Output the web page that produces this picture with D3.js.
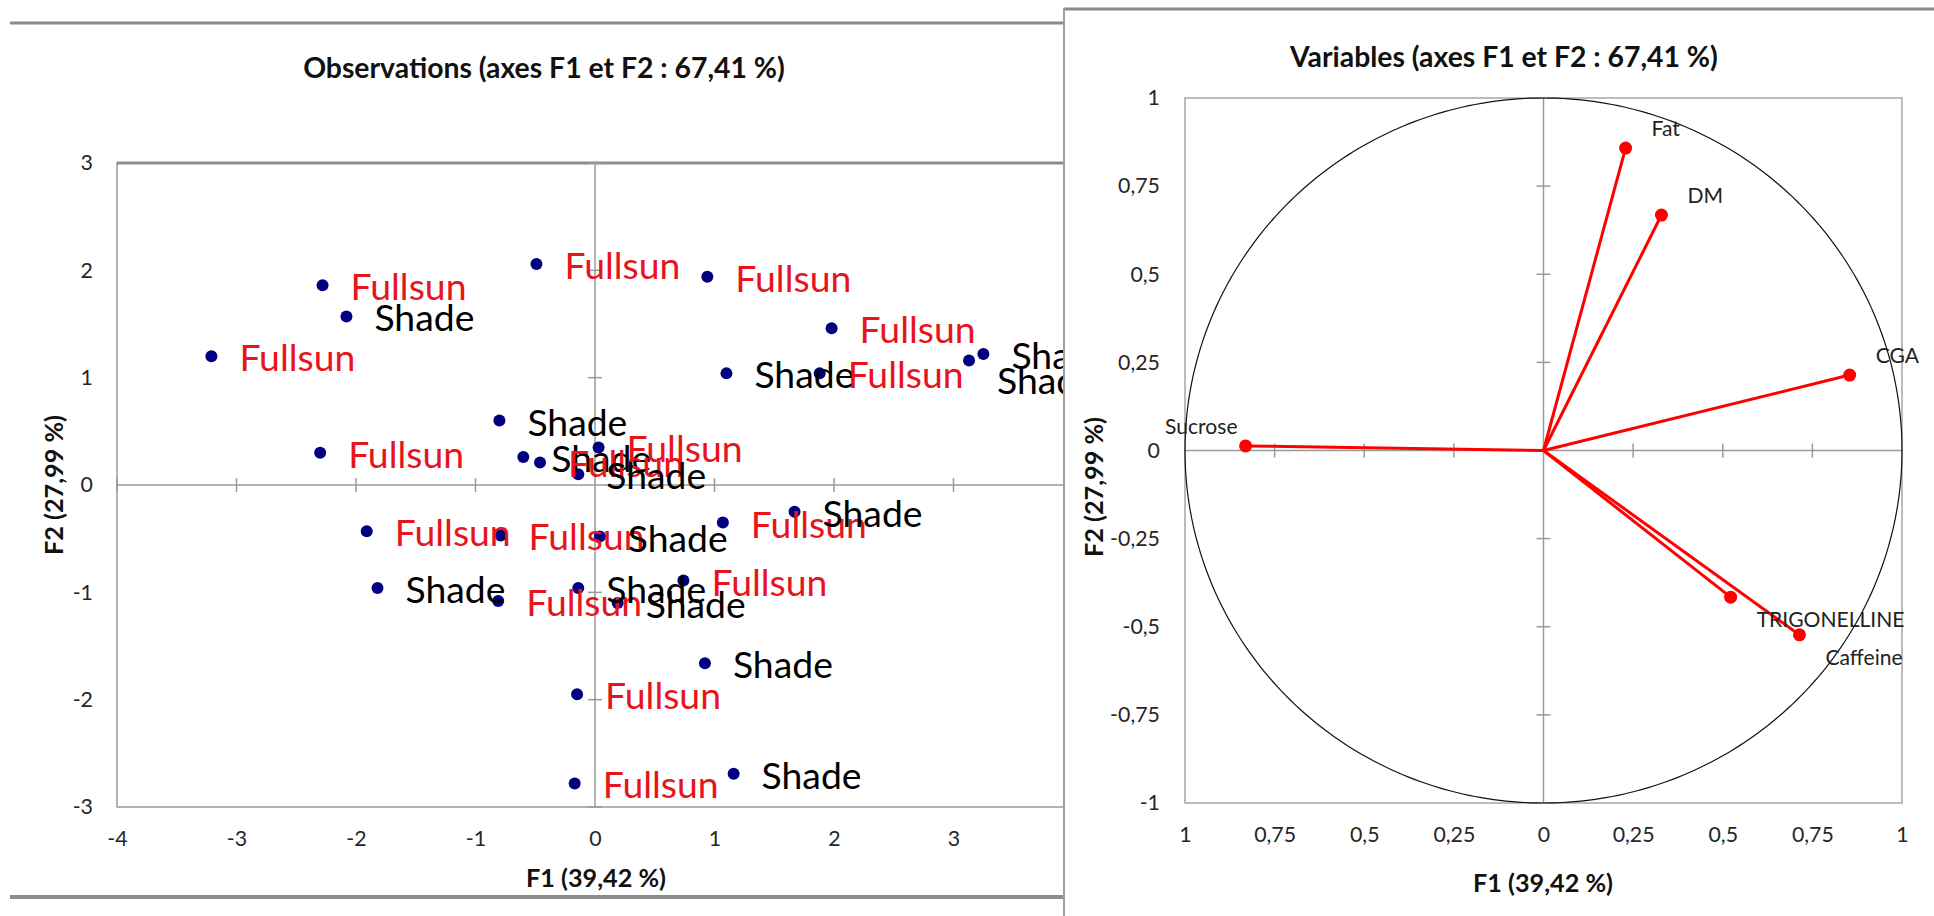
<!DOCTYPE html>
<html>
<head>
<meta charset="utf-8">
<script src="https://d3js.org/d3.v7.min.js"></script>
<style>
  html, body { margin: 0; padding: 0; background: #fff; }
  svg { display: block; font-family: Lato, "Liberation Sans", sans-serif; }
</style>
</head>
<body>
<svg id="chart" width="1934" height="916"></svg>
<script>
// observations on F1 / F2
var obsF1 = [-2.28, -2.08, -3.21, -0.49, 0.94, 1.98, 1.10, 1.88, 3.25, 3.13,
             -0.80, -2.30, -0.60, -0.46, -0.14, 0.03, -1.91, -0.79, 0.04, 1.07,
             1.67, -1.82, -0.81, -0.14, 0.74, 0.19, 0.92, -0.15, 1.16, -0.17];
var obsF2 = [1.86, 1.57, 1.20, 2.06, 1.94, 1.46, 1.04, 1.04, 1.22, 1.16,
             0.60, 0.30, 0.26, 0.21, 0.10, 0.35, -0.43, -0.47, -0.48, -0.35,
             -0.25, -0.96, -1.08, -0.96, -0.89, -1.10, -1.66, -1.95, -2.69, -2.78];
var obsGroup = ["Fullsun", "Shade", "Fullsun", "Fullsun", "Fullsun", "Fullsun", "Shade", "Fullsun", "Shade", "Shade",
                "Shade", "Fullsun", "Shade", "Fullsun", "Shade", "Fullsun", "Fullsun", "Fullsun", "Shade", "Fullsun",
                "Shade", "Shade", "Fullsun", "Shade", "Fullsun", "Shade", "Shade", "Fullsun", "Shade", "Fullsun"];

// variables on the correlation circle
var varNames = ["Fat", "DM", "CGA", "Sucrose", "TRIGONELLINE", "Caffeine"];
var varF1 = [0.229, 0.329, 0.854, -0.831, 0.522, 0.714];
var varF2 = [0.858, 0.668, 0.214, 0.013, -0.416, -0.523];

// tick values and labels
var obsTicksX = [-4, -3, -2, -1, 0, 1, 2, 3];
var obsTicksY = [-3, -2, -1, 0, 1, 2, 3];
var varTicks = [-1, -0.75, -0.5, -0.25, 0, 0.25, 0.5, 0.75, 1];
var varTickLabelsX = ["1", "0,75", "0,5", "0,25", "0", "0,25", "0,5", "0,75", "1"];
var varTickLabelsY = ["-1", "-0,75", "-0,5", "-0,25", "0", "0,25", "0,5", "0,75", "1"];

var svg = d3.select("#chart");
svg.append("rect").attr("width", 1934).attr("height", 916).attr("fill", "#fff");

// the original used Calibri; pick a Lato size that gives the same text width
function fit(str, weight, width) {
  var t = svg.append("text").attr("font-size", 100).attr("font-weight", weight).text(str);
  var w = t.node().getComputedTextLength();
  t.remove();
  return 100 * width / w;
}
var fsObs = fit("Fullsun", "normal", 116);
var fsTitle = fit("Observations (axes F1 et F2 : 67,41 %)", "bold", 482);
var fsAxis = fit("F1 (39,42 %)", "bold", 140);
var fsTick = fit("0,75", "normal", 42);
var fsVar = fit("TRIGONELLINE", "normal", 148);

var groupColor = { Fullsun: "#e8141c", Shade: "#000" };

// ---------- left chart: observations ----------
var x = d3.scaleLinear().domain([-4, 4]).range([117, 1073]);
var y = d3.scaleLinear().domain([-3, 3]).range([807, 163]);

var left = svg.append("g");

// chart area lines
left.append("line").attr("x1", 10).attr("x2", 1064).attr("y1", 23).attr("y2", 23)
  .attr("stroke", "#8c8c8c").attr("stroke-width", 3);
left.append("line").attr("x1", 10).attr("x2", 1064).attr("y1", 897).attr("y2", 897)
  .attr("stroke", "#8c8c8c").attr("stroke-width", 4);

left.append("text").attr("x", 544).attr("y", 78).attr("text-anchor", "middle")
  .attr("font-size", fsTitle).attr("font-weight", "bold").attr("fill", "#111")
  .text("Observations (axes F1 et F2 : 67,41 %)");

// plot box
left.append("rect").attr("x", x(-4)).attr("y", y(3)).attr("width", x(4) - x(-4)).attr("height", y(-3) - y(3))
  .attr("fill", "none").attr("stroke", "#9a9a9a").attr("stroke-width", 1.5);
left.append("line").attr("x1", x(-4)).attr("x2", x(4)).attr("y1", y(3)).attr("y2", y(3))
  .attr("stroke", "#8c8c8c").attr("stroke-width", 3);

// axes through the origin
left.append("line").attr("x1", x(-4)).attr("x2", x(4)).attr("y1", y(0)).attr("y2", y(0))
  .attr("stroke", "#9a9a9a").attr("stroke-width", 1.5);
left.append("line").attr("x1", x(0)).attr("x2", x(0)).attr("y1", y(3)).attr("y2", y(-3))
  .attr("stroke", "#9a9a9a").attr("stroke-width", 1.5);
left.selectAll(".tx").data(obsTicksX.filter(function(d){ return d !== 0; })).enter().append("line")
  .attr("x1", function(d){ return x(d); }).attr("x2", function(d){ return x(d); })
  .attr("y1", y(0) - 7).attr("y2", y(0) + 7).attr("stroke", "#9a9a9a").attr("stroke-width", 1.5);
left.selectAll(".ty").data(obsTicksY.filter(function(d){ return d !== 0; })).enter().append("line")
  .attr("y1", function(d){ return y(d); }).attr("y2", function(d){ return y(d); })
  .attr("x1", x(0) - 7).attr("x2", x(0) + 7).attr("stroke", "#9a9a9a").attr("stroke-width", 1.5);

// tick labels
var axL = left.append("g").attr("transform", "translate(" + x(-4) + ",0)")
  .call(d3.axisLeft(y).tickValues(obsTicksY).tickSize(0).tickPadding(24).tickFormat(d3.format("d")));
var axB = left.append("g").attr("transform", "translate(0," + y(-3) + ")")
  .call(d3.axisBottom(x).tickValues(obsTicksX).tickSize(0).tickPadding(24).tickFormat(d3.format("d")));
[axL, axB].forEach(function(a){
  a.select(".domain").remove();
  a.selectAll("text").attr("font-size", fsTick).attr("fill", "#262626").attr("font-family", "Lato, sans-serif")
    .text(function(){ return this.textContent.replace("\u2212", "-"); });
});

left.append("text").attr("x", 596).attr("y", 887).attr("text-anchor", "middle")
  .attr("font-size", fsAxis).attr("font-weight", "bold").attr("fill", "#111").text("F1 (39,42 %)");
left.append("text").attr("transform", "translate(63,485) rotate(-90)").attr("text-anchor", "middle")
  .attr("font-size", fsAxis).attr("font-weight", "bold").attr("fill", "#111").text("F2 (27,99 %)");

// points and labels
var placed = [];
obsF1.forEach(function(v, i){
  var px = x(v), py = y(obsF2[i]);
  var lx = px + 28, ly = py + 15;
  // same-group labels that would sit on top of each other go one line down
  placed.forEach(function(p){
    if (p.g === obsGroup[i] && Math.abs(p.x - lx) < 20 && Math.abs(p.y - ly) < 20) ly = p.y + 25;
  });
  placed.push({ x: lx, y: ly, g: obsGroup[i], px: px, py: py });
});
left.selectAll("circle.obs").data(placed).enter().append("circle")
  .attr("class", "obs").attr("cx", function(d){ return d.px; }).attr("cy", function(d){ return d.py; })
  .attr("r", 6).attr("fill", "#000080");
left.selectAll("text.obs").data(placed).enter().append("text")
  .attr("class", "obs").attr("x", function(d){ return d.x; }).attr("y", function(d){ return d.y; })
  .attr("font-size", fsObs).attr("fill", function(d){ return groupColor[d.g]; })
  .text(function(d){ return d.g; });

// ---------- right chart: variables ----------
var x2 = d3.scaleLinear().domain([-1, 1]).range([1185, 1902]);
var y2 = d3.scaleLinear().domain([-1, 1]).range([803, 98]);

var right = svg.append("g");
right.append("rect").attr("x", 1064).attr("y", 9).attr("width", 870).attr("height", 907).attr("fill", "#fff");
right.append("line").attr("x1", 1064).attr("x2", 1934).attr("y1", 9).attr("y2", 9)
  .attr("stroke", "#8c8c8c").attr("stroke-width", 3);
right.append("line").attr("x1", 1064).attr("x2", 1064).attr("y1", 8).attr("y2", 916)
  .attr("stroke", "#a0a0a0").attr("stroke-width", 2);

right.append("text").attr("x", 1504).attr("y", 67).attr("text-anchor", "middle")
  .attr("font-size", fsTitle).attr("font-weight", "bold").attr("fill", "#111")
  .text("Variables (axes F1 et F2 : 67,41 %)");

right.append("rect").attr("x", x2(-1)).attr("y", y2(1)).attr("width", x2(1) - x2(-1)).attr("height", y2(-1) - y2(1))
  .attr("fill", "none").attr("stroke", "#a6a6a6").attr("stroke-width", 1.5);
right.append("line").attr("x1", x2(-1)).attr("x2", x2(1)).attr("y1", y2(0)).attr("y2", y2(0))
  .attr("stroke", "#9a9a9a").attr("stroke-width", 1.5);
right.append("line").attr("x1", x2(0)).attr("x2", x2(0)).attr("y1", y2(1)).attr("y2", y2(-1))
  .attr("stroke", "#9a9a9a").attr("stroke-width", 1.5);
var inner = varTicks.filter(function(d){ return d !== 0 && Math.abs(d) !== 1; });
right.selectAll(".tx").data(inner).enter().append("line")
  .attr("x1", function(d){ return x2(d); }).attr("x2", function(d){ return x2(d); })
  .attr("y1", y2(0) - 7).attr("y2", y2(0) + 7).attr("stroke", "#9a9a9a").attr("stroke-width", 1.5);
right.selectAll(".ty").data(inner).enter().append("line")
  .attr("y1", function(d){ return y2(d); }).attr("y2", function(d){ return y2(d); })
  .attr("x1", x2(0) - 7).attr("x2", x2(0) + 7).attr("stroke", "#9a9a9a").attr("stroke-width", 1.5);

var axL2 = right.append("g").attr("transform", "translate(" + x2(-1) + ",0)")
  .call(d3.axisLeft(y2).tickValues(varTicks).tickSize(0).tickPadding(25)
    .tickFormat(function(d, i){ return varTickLabelsY[i]; }));
var axB2 = right.append("g").attr("transform", "translate(0," + y2(-1) + ")")
  .call(d3.axisBottom(x2).tickValues(varTicks).tickSize(0).tickPadding(24)
    .tickFormat(function(d, i){ return varTickLabelsX[i]; }));
[axL2, axB2].forEach(function(a){
  a.select(".domain").remove();
  a.selectAll("text").attr("font-size", fsTick).attr("fill", "#262626").attr("font-family", "Lato, sans-serif");
});

right.append("text").attr("x", 1543).attr("y", 892).attr("text-anchor", "middle")
  .attr("font-size", fsAxis).attr("font-weight", "bold").attr("fill", "#111").text("F1 (39,42 %)");
right.append("text").attr("transform", "translate(1103,487) rotate(-90)").attr("text-anchor", "middle")
  .attr("font-size", fsAxis).attr("font-weight", "bold").attr("fill", "#111").text("F2 (27,99 %)");

// unit circle
var circle = d3.line().x(function(a){ return x2(Math.cos(a)); }).y(function(a){ return y2(Math.sin(a)); });
right.append("path").datum(d3.range(0, 2 * Math.PI + 0.01, Math.PI / 180))
  .attr("d", circle).attr("fill", "none").attr("stroke", "#111").attr("stroke-width", 1.2);

// vectors
var vars = varNames.map(function(n, i){ return { name: n, f1: varF1[i], f2: varF2[i] }; });
right.selectAll("line.vec").data(vars).enter().append("line").attr("class", "vec")
  .attr("x1", x2(0)).attr("y1", y2(0))
  .attr("x2", function(d){ return x2(d.f1); }).attr("y2", function(d){ return y2(d.f2); })
  .attr("stroke", "#ff0000").attr("stroke-width", 3);
right.selectAll("circle.vec").data(vars).enter().append("circle").attr("class", "vec")
  .attr("cx", function(d){ return x2(d.f1); }).attr("cy", function(d){ return y2(d.f2); })
  .attr("r", 6.5).attr("fill", "#ff0000");
right.selectAll("text.vec").data(vars).enter().append("text").attr("class", "vec")
  .attr("x", function(d){ return x2(d.f1) + (d.f1 >= 0 ? 26 : -8); })
  .attr("y", function(d){ return y2(d.f2) + (d.f2 >= 0 ? -12 : 30); })
  .attr("text-anchor", function(d){ return d.f1 >= 0 ? "start" : "end"; })
  .attr("font-size", fsVar).attr("fill", "#222").text(function(d){ return d.name; });
</script>
</body>
</html>
